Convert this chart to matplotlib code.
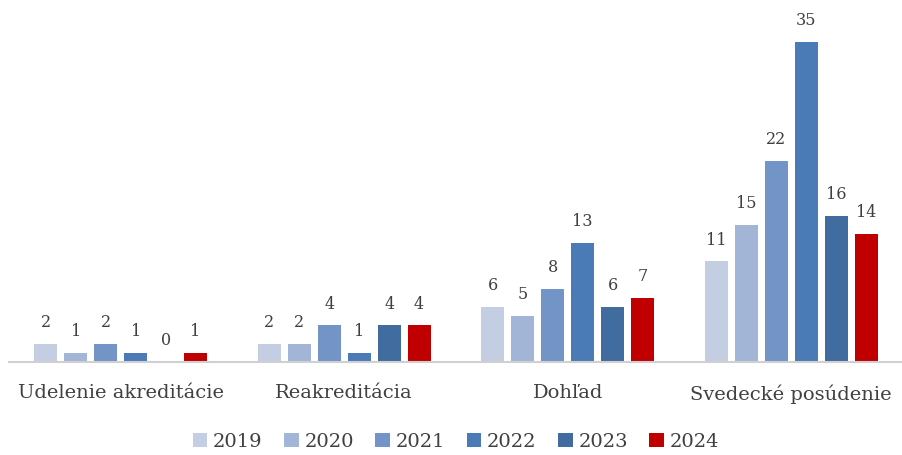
import matplotlib.pyplot as plt
import numpy as np

categories = ['Udelenie akreditácie', 'Reakreditácia', 'Dohľad', 'Svedecké posúdenie']
years = ['2019', '2020', '2021', '2022', '2023', '2024']
v2019 = [2, 2, 6, 11]
v2020 = [1, 2, 5, 15]
v2021 = [2, 4, 8, 22]
v2022 = [1, 1, 13, 35]
v2023 = [0, 4, 6, 16]
v2024 = [1, 4, 7, 14]
series = [v2019, v2020, v2021, v2022, v2023, v2024]
colors = ['#C4CEE3', '#A3B5D7', '#7394C7', '#4A7BB6', '#416C9F', '#C00000']

plt.rcParams['font.family'] = ['DejaVu Serif']
txt = '#404040'

fig = plt.figure(figsize=(9.03, 4.55), dpi=100)
ax = fig.add_axes([9/903, 93/455, 894/903, 362/455])

x = np.arange(len(categories))
step = 0.134
width = 0.103
for i, (vals, c, yr) in enumerate(zip(series, colors, years)):
    pos = x + (i - 2.5) * step
    bars = ax.bar(pos, vals, width, color=c, label=yr)
    for p, v in zip(pos, vals):
        ax.text(p, v + 1.4, str(v), ha='center', va='bottom', fontsize=11.5, color=txt)

ax.set_xlim(-0.5, 3.5)
ax.set_ylim(0, 39.6)
ax.set_yticks([])
ax.set_xticks(x)
ax.set_xticklabels(categories, fontsize=14, color=txt)
ax.tick_params(axis='x', length=0, pad=16)
for s in ['top', 'left', 'right']:
    ax.spines[s].set_visible(False)
ax.spines['bottom'].set_color('#D0D0D0')
ax.spines['bottom'].set_linewidth(1.5)

ax.legend(loc='upper center', bbox_to_anchor=(0.5, -0.175), ncol=6, frameon=False,
          fontsize=14, handlelength=0.75, handleheight=0.75, handletextpad=0.3,
          columnspacing=1.1, labelcolor=txt, borderaxespad=0)

fig.savefig('out.png', dpi=100)
